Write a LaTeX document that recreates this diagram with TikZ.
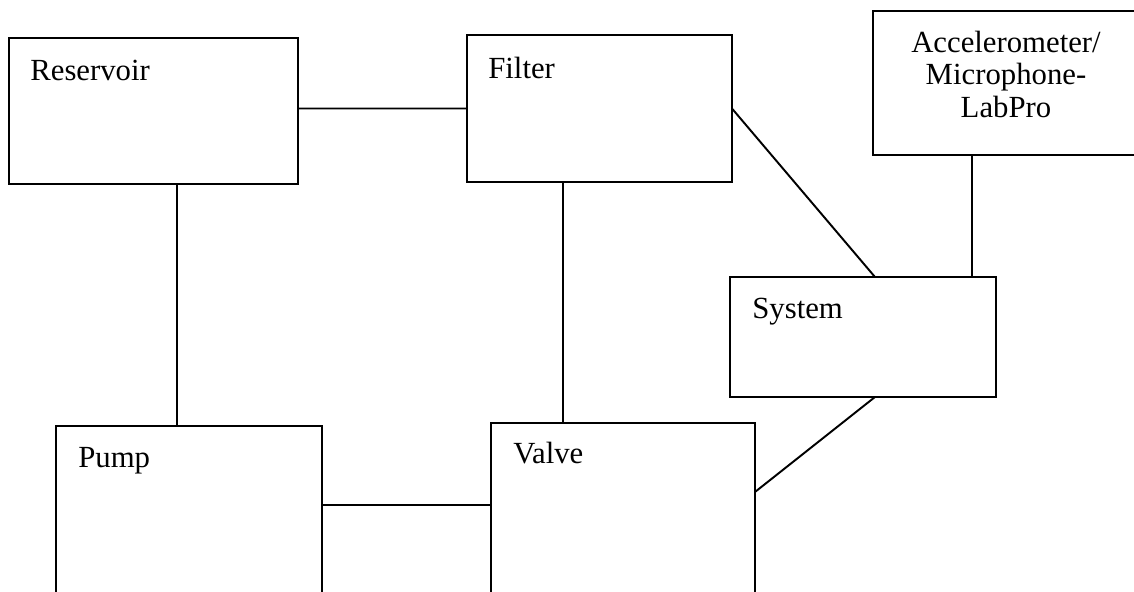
\documentclass[tikz,border=0pt]{standalone}
\usepackage{fontspec}
\setmainfont{Liberation Serif}

\begin{document}
\begin{tikzpicture}[x=0.02cm,y=-0.02cm,
		blk/.style={draw,line width=1.1pt,inner sep=0pt,outer sep=0pt},
		lbl/.style={inner sep=0pt,font=\fontsize{17.5}{18.5}\selectfont}]
		\useasboundingbox (0,0) rectangle (1134,592);
		\clip (0,0) rectangle (1134,592);
		% blocks: name/centre/size
		\foreach \n/\x/\y/\w/\h in {res/153.5/111/5.78/2.92, filt/599.5/108.5/5.3/2.94, acc/1006.5/83/5.34/2.88,
			sys/863/337/5.32/2.4, pump/189/518/5.32/3.68, valve/623/516.5/5.28/3.74}
			{
				\node[blk,minimum width=\w cm,minimum height=\h cm] (\n) at (\x,\y) {};
			}
		\foreach \n/\t/\x/\y in {res/Reservoir/30/80, filt/Filter/488/78, sys/System/752/318,
			pump/Pump/78/467, valve/Valve/513/463}
			{
				\node[lbl,anchor=base west] (\n-t) at (\x,\y) {\t};
			}
		\node[lbl,align=center] (acc-t) at (1006,74) {Accelerometer/\\Microphone-\\LabPro};
		% links
		\coordinate (rp) at ([xshift=0.47cm]res.south);
		\coordinate (fv) at ([xshift=-0.73cm]filt.south);
		\coordinate (as) at ([xshift=-0.69cm]acc.south);
		\coordinate (pv) at ([yshift=0.26cm]pump.east);
		\draw[line width=1.1pt]
		(res.east |- filt.west) -- (filt.west)
		(rp) -- (rp |- pump.north)
		(fv) -- (fv |- valve.north)
		(filt.east) -- ([xshift=0.24cm]sys.north)
		(as) -- (as |- sys.north)
		([xshift=0.24cm]sys.south) -- ([yshift=0.49cm]valve.east)
		(pv) -- (pv -| valve.west);
	\end{tikzpicture}
\end{document}
